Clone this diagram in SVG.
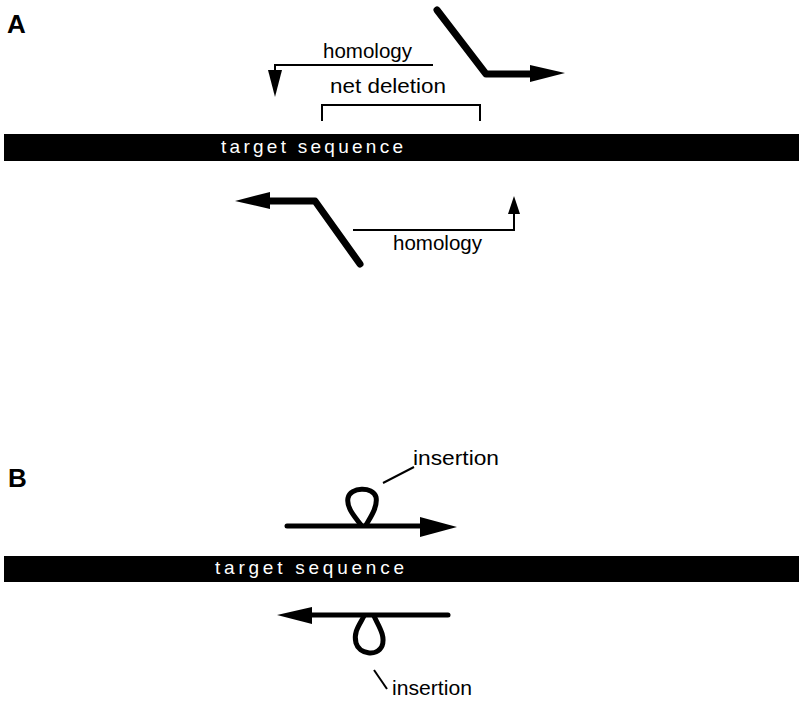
<svg xmlns="http://www.w3.org/2000/svg" width="799" height="711" viewBox="0 0 799 711">
<style>
  .lbl{font-family:"Liberation Sans",Arial,sans-serif;font-size:20px;fill:#000}
  .panel{font-family:"Liberation Sans",Arial,sans-serif;font-size:26px;font-weight:bold;fill:#000}
  .tgt{font-family:"Liberation Sans",Arial,sans-serif;font-size:19px;fill:#fff}
  .thin{fill:none;stroke:#000;stroke-width:2}
  .thick{fill:none;stroke:#000;stroke-width:7;stroke-linecap:round;stroke-linejoin:round}
  .med{fill:none;stroke:#000;stroke-width:5;stroke-linecap:round;stroke-linejoin:round}
  .head{fill:#000}
</style>
<rect width="799" height="711" fill="#fff"/>

<g id="panelA">
  <text class="panel" x="7" y="33">A</text>
  <g id="targetA">
    <rect x="4" y="134" width="795" height="27" fill="#000"/>
    <text class="tgt" x="221" y="153" textLength="182" lengthAdjust="spacing">target sequence</text>
  </g>
  <g id="labelsA">
    <text class="lbl" x="323" y="58" textLength="89" lengthAdjust="spacingAndGlyphs">homology</text>
    <text class="lbl" x="330" y="93" textLength="116" lengthAdjust="spacingAndGlyphs">net deletion</text>
    <text class="lbl" x="393" y="250" textLength="89" lengthAdjust="spacingAndGlyphs">homology</text>
  </g>
  <g id="connectorsA">
    <path class="thin" d="M433,65 H275 V72"/>
    <polygon class="head" points="268,70 282,70 275,97"/>
    <path class="thin" d="M322,121 V105 H480 V121"/>
    <polyline class="thick" points="437,10 486,74 533,74"/>
    <polygon class="head" points="530,65 565,73 530,82"/>
    <polyline class="thick" points="360,264 315,201 268,201"/>
    <polygon class="head" points="270,192 235,201 270,209"/>
    <path class="thin" d="M353,230 H514 V212"/>
    <polygon class="head" points="508,214 520,214 514,196"/>
  </g>
</g>

<g id="panelB">
  <text class="panel" x="8" y="487">B</text>
  <g id="targetB">
    <rect x="4" y="556" width="795" height="26" fill="#000"/>
    <text class="tgt" x="215" y="574" textLength="189" lengthAdjust="spacing">target sequence</text>
  </g>
  <g id="labelsB">
    <text class="lbl" x="413" y="465" textLength="86" lengthAdjust="spacingAndGlyphs">insertion</text>
    <text class="lbl" x="392" y="695" textLength="80" lengthAdjust="spacingAndGlyphs">insertion</text>
  </g>
  <g id="connectorsB">
    <line class="med" x1="287" y1="526" x2="422" y2="526"/>
    <polygon class="head" points="420,517 457,527 420,537"/>
    <path class="med" d="M361,525 C356,518 346,508 348,498 C350,487 373,486 376,497 C378,507 370,518 366,525"/>
    <line class="thin" x1="383" y1="483" x2="414" y2="467"/>
    <line class="med" x1="448" y1="615" x2="310" y2="615"/>
    <polygon class="head" points="312,607 277,615 312,624"/>
    <path class="med" d="M364,616 C360,624 353,632 356,643 C359,654 377,657 382,646 C386,636 378,625 374,616"/>
    <line class="thin" x1="374" y1="670" x2="387" y2="689"/>
  </g>
</g>
</svg>
